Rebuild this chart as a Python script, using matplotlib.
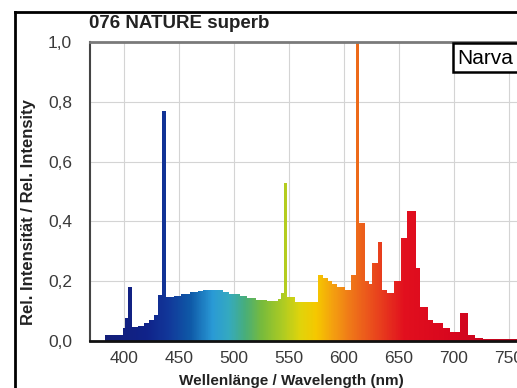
import numpy as np
import matplotlib
matplotlib.use("Agg")
import matplotlib.pyplot as plt
from matplotlib.colors import LinearSegmentedColormap
from matplotlib.path import Path
from matplotlib.patches import Rectangle
from matplotlib.lines import Line2D

plt.rcParams['font.family'] = ['Liberation Sans', 'DejaVu Sans']

# spectrum as steps: value holds from wl[i] up to wl[i+1]
wl = [380, 383, 399, 401, 404, 407.5, 413, 418, 423, 427, 431, 434.5, 438,
      445, 452, 460, 467, 472, 490, 495, 505, 512, 520, 530, 540, 543, 545.5,
      548.5, 555, 576, 581, 585, 589, 594, 601, 606, 611, 614, 619, 623,
      625.5, 630.5, 634.5, 639, 645, 651.5, 657, 665, 669.5, 676, 681, 690,
      696, 705, 712.5, 719, 726, 790]
rel = [0.0, 0.02, 0.045, 0.077, 0.18, 0.047, 0.05, 0.06, 0.07, 0.087, 0.155, 0.77, 0.148,
       0.15, 0.157, 0.163, 0.168, 0.17, 0.165, 0.158, 0.152, 0.145, 0.138, 0.133, 0.14, 0.16, 0.53,
       0.148, 0.13, 0.22, 0.21, 0.2, 0.19, 0.18, 0.17, 0.22, 1.0, 0.395, 0.2, 0.19,
       0.26, 0.33, 0.17, 0.16, 0.2, 0.345, 0.435, 0.245, 0.115, 0.07, 0.06, 0.045,
       0.03, 0.094, 0.02, 0.01, 0.007, 0.007]

x_ticks = [400, 450, 500, 550, 600, 650, 700, 750]
y_ticks = [0.0, 0.2, 0.4, 0.6, 0.8, 1.0]

# wavelength -> colour
cnodes = [(380, "#141e78"), (420, "#10238a"), (440, "#12389a"), (460, "#0f5aa8"),
          (480, "#2a9ad6"), (495, "#35aac0"), (510, "#48ae7a"), (525, "#78bb3c"),
          (545, "#b0cc22"), (560, "#e0d40c"), (575, "#f6c800"), (590, "#f4a010"),
          (605, "#f07a18"), (620, "#ec5a1c"), (640, "#e6301e"), (655, "#e2101e"),
          (700, "#d8061e"), (790, "#a8081e")]
lo, hi = cnodes[0][0], cnodes[-1][0]
cmap = LinearSegmentedColormap.from_list(
    "spec", [((w - lo) / (hi - lo), c) for w, c in cnodes])

fig = plt.figure(figsize=(5.17, 3.88), dpi=100)
W, H = 517, 388
ax_l, ax_r, ax_t, ax_b = 90, 553, 42, 341
ax = fig.add_axes([ax_l / W, 1 - ax_b / H, (ax_r - ax_l) / W, (ax_b - ax_t) / H])
ax.set_xlim(369, 790)
ax.set_ylim(0, 1.0)

# step outline -> clip path for gradient
xs, ys = [wl[0]], [0]
for i in range(len(wl) - 1):
    xs += [wl[i], wl[i + 1]]
    ys += [rel[i], rel[i]]
xs.append(wl[-1]); ys.append(0)
path = Path(np.column_stack([xs, ys]), closed=False)

grad = np.linspace(lo, hi, 800).reshape(1, -1)
im = ax.imshow(grad, cmap=cmap, extent=(lo, hi, 0, 1), aspect="auto",
               origin="lower", zorder=2, vmin=lo, vmax=hi)
im.set_clip_path(path, transform=ax.transData)

ax.set_xticks(x_ticks)
ax.set_yticks(y_ticks)
ax.set_yticklabels([f"{v:.1f}".replace(".", ",") for v in y_ticks])
ax.tick_params(length=0, labelsize=12.5, labelcolor="#3a3a3a")
ax.tick_params(axis="y", pad=13)
ax.tick_params(axis="x", pad=7)
ax.grid(True, color="#d4d4d4", lw=0.8, zorder=0)
ax.set_axisbelow(True)
ax.spines["right"].set_visible(False)
ax.spines["top"].set_color("#7a7a7a")
ax.spines["top"].set_linewidth(2)
ax.spines["left"].set_color("#444444")
ax.spines["left"].set_linewidth(1.5)
ax.spines["bottom"].set_color("#111111")
ax.spines["bottom"].set_linewidth(2)
for s in ax.spines.values():
    s.set_zorder(3)

fig.text(89 / W, 1 - 24 / H, "076 NATURE superb", fontsize=13.5, fontweight="bold",
         color="#222222", va="center", ha="left")
fig.text(29 / W, 1 - 212 / H, "Rel. Intensität / Rel. Intensity", fontsize=12,
         fontweight="bold", color="#222222", rotation=90, va="center", ha="center")
fig.text(291 / W, 1 - 381 / H, "Wellenlänge / Wavelength (nm)", fontsize=11,
         fontweight="bold", color="#222222", va="center", ha="center")

# outer frame
fig.add_artist(Line2D([15 / W, 15 / W], [0, 1 - 12 / H], transform=fig.transFigure,
                      color="black", lw=2))
fig.add_artist(Line2D([15 / W, 1.02], [1 - 12 / H, 1 - 12 / H], transform=fig.transFigure,
                      color="black", lw=2))

# brand box
fig.add_artist(Rectangle((453 / W, 1 - 72 / H), 80 / W, 29 / H, transform=fig.transFigure,
                         facecolor="white", edgecolor="black", lw=1.8, zorder=5))
fig.text(457 / W, 1 - 58 / H, "Narva", fontsize=15, color="black", va="center",
         ha="left", zorder=6)

fig.savefig("out.png", dpi=100)
